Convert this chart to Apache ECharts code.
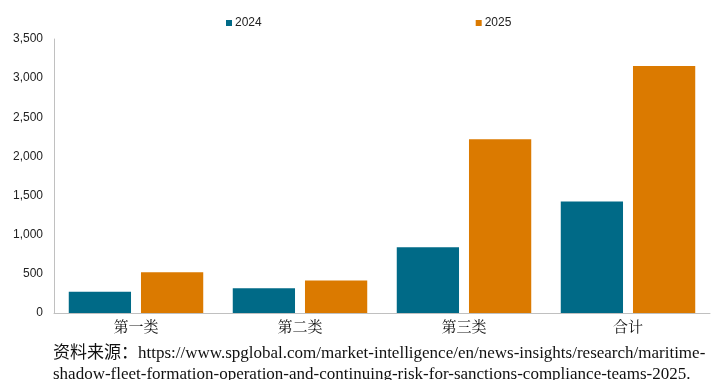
<!DOCTYPE html>
<html><head><meta charset="utf-8">
<script src="https://cdn.jsdelivr.net/npm/echarts@6/dist/echarts.min.js"></script>
<style>html,body{margin:0;padding:0;background:#fff}#c{width:720px;height:380px}</style>
</head><body><div id="c"></div>
<script>
const categories = ['第一类', '第二类', '第三类', '合计'];
const values2024 = [270, 315, 840, 1425];
const values2025 = [520, 415, 2220, 3155];
const seriesNames = ['2024', '2025'];
const sourceLine1 = '资料来源：https://www.spglobal.com/market-intelligence/en/news-insights/research/maritime-';
const sourceLine2 = 'shadow-fleet-formation-operation-and-continuing-risk-for-sanctions-compliance-teams-2025.';

const chart = echarts.init(document.getElementById('c'), null, {renderer: 'canvas'});
chart.setOption({
  animation: false,
  backgroundColor: '#fff',
  grid: {left: 54, right: 10, top: 39, bottom: 67},
  legend: {
    data: seriesNames,
    top: 12,
    left: 221,
    itemGap: 214,
    itemWidth: 6, itemHeight: 6, icon: 'rect',
    textStyle: {fontFamily: 'Liberation Sans, Arial', fontSize: 12, color: '#222', padding: [0,0,0,-2]}
  },
  xAxis: {
    type: 'category',
    data: categories,
    axisLine: {lineStyle: {color: '#c0c0c0', width: 1}},
    axisTick: {show: false},
    axisLabel: {fontFamily: 'Noto Serif CJK SC, Noto Sans CJK SC', fontSize: 15, color: '#111', margin: 6}
  },
  yAxis: {
    type: 'value',
    min: 0, max: 3500, interval: 500,
    splitLine: {show: false},
    axisLine: {show: true, lineStyle: {color: '#c0c0c0', width: 1}},
    axisTick: {show: false},
    axisLabel: {fontFamily: 'Liberation Sans, Arial', fontSize: 12, color: '#222', margin: 11,
      formatter: v => v.toLocaleString('en-US')}
  },
  series: [
    {name: seriesNames[0], type: 'bar', data: values2024, itemStyle: {color: '#006a87'}, barGap: '16%', barCategoryGap: '18%'},
    {name: seriesNames[1], type: 'bar', data: values2025, itemStyle: {color: '#db7a00'}}
  ],
  graphic: [
    {type: 'text', left: 53, top: 345, style: {text: sourceLine1, font: '17px "Liberation Serif", "Noto Sans CJK SC"', fill: '#111'}},
    {type: 'text', left: 53, top: 366, style: {text: sourceLine2, font: '17px "Liberation Serif", "Noto Sans CJK SC"', fill: '#111'}}
  ]
});
</script></body></html>
